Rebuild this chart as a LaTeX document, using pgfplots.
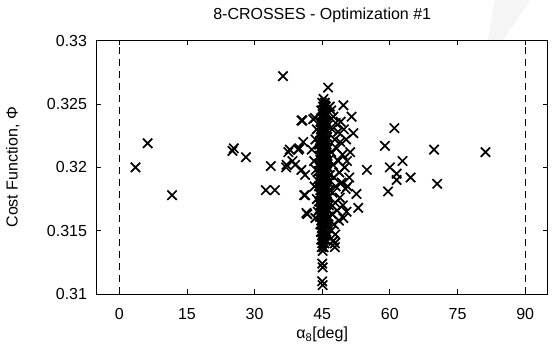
\documentclass[border=0pt]{standalone}
\usepackage{pgfplots}
\pgfplotsset{compat=1.18}
\usepackage{fontspec}
\setmainfont{Liberation Sans}
\begin{document}
\fontsize{16}{19}\selectfont
\begin{tikzpicture}
\useasboundingbox (-96.7pt,-53pt) rectangle (456.3pt,294pt);
\fill[black!4] (398pt,294pt) -- (434pt,294pt) -- (406pt,253.3pt) -- (391pt,253.3pt) -- cycle;
\begin{axis}[
  scale only axis,
  width=451pt, height=253.3pt,
  xmin=-5, xmax=95, ymin=0.31, ymax=0.33,
  xtick={0,15,30,45,60,75,90},
  ytick={0.31,0.315,0.32,0.325,0.33},
  /pgf/number format/assume math mode=true,
  yticklabel style={/pgf/number format/fixed,/pgf/number format/precision=3, inner sep=0pt, xshift=-9.5pt},
  xticklabel style={inner sep=0pt, yshift=-14pt},
  scaled y ticks=false,
  axis line style={line width=0.8pt},
  major tick style={line width=0.8pt, black},
  major tick length=4.5pt,
  tick align=inside,
  axis background/.style={fill=white},
  title={8-CROSSES - Optimization \#1},
  title style={at={(axis description cs:0.5,1)}, anchor=south, inner sep=0pt, yshift=12pt},
  xlabel={α\textsubscript{8}[deg]},
  xlabel style={at={(axis description cs:0.5,0)}, anchor=north, inner sep=0pt, yshift=-33pt},
  ylabel={Cost Function, Φ},
  ylabel style={at={(axis description cs:0,0.5)}, anchor=base, inner sep=0pt, yshift=79pt},
  clip=false,
]
\addplot[black, line width=0.8pt, dash pattern=on 7pt off 5pt] coordinates {(0,0.31) (0,0.33)};
\addplot[black, line width=0.8pt, dash pattern=on 7pt off 5pt] coordinates {(90,0.31) (90,0.33)};
\addplot[only marks, mark=x, mark size=6.6pt, mark options={line width=1.7pt, black}] table {
x y
45.1 0.3134
45.3 0.3137
44.9 0.3137
45.0 0.3140
45.5 0.3140
44.8 0.3143
45.3 0.3143
45.8 0.3143
45.0 0.3146
45.6 0.3146
46.1 0.3146
44.7 0.3149
45.2 0.3149
45.9 0.3149
44.9 0.3152
45.4 0.3152
46.2 0.3152
44.6 0.3155
45.1 0.3155
45.7 0.3155
46.3 0.3155
44.8 0.3158
45.3 0.3158
46.0 0.3158
44.5 0.3161
45.0 0.3161
45.6 0.3161
46.4 0.3161
44.7 0.3164
45.2 0.3164
45.9 0.3164
44.4 0.3167
45.0 0.3167
45.5 0.3167
46.2 0.3167
44.6 0.3170
45.1 0.3170
45.8 0.3170
46.5 0.3170
44.3 0.3173
44.9 0.3173
45.4 0.3173
46.0 0.3173
44.7 0.3176
45.2 0.3176
45.7 0.3176
46.3 0.3176
44.4 0.3179
45.0 0.3179
45.5 0.3179
46.1 0.3179
44.6 0.3182
45.1 0.3182
45.8 0.3182
46.6 0.3182
44.3 0.3185
44.9 0.3185
45.4 0.3185
46.0 0.3185
44.7 0.3188
45.2 0.3188
45.7 0.3188
46.4 0.3188
44.4 0.3191
45.0 0.3191
45.5 0.3191
46.2 0.3191
44.6 0.3194
45.3 0.3194
45.9 0.3194
46.7 0.3194
44.2 0.3197
44.8 0.3197
45.4 0.3197
46.1 0.3197
44.5 0.3200
45.1 0.3200
45.6 0.3200
46.3 0.3200
44.3 0.3203
44.9 0.3203
45.5 0.3203
46.0 0.3203
44.6 0.3206
45.2 0.3206
45.8 0.3206
46.5 0.3206
44.4 0.3209
45.0 0.3209
45.6 0.3209
46.2 0.3209
44.7 0.3212
45.3 0.3212
45.9 0.3212
44.5 0.3215
45.1 0.3215
45.6 0.3215
46.3 0.3215
44.3 0.3218
44.9 0.3218
45.4 0.3218
46.0 0.3218
44.6 0.3221
45.2 0.3221
45.8 0.3221
44.8 0.3224
45.4 0.3224
46.1 0.3224
44.5 0.3227
45.0 0.3227
45.6 0.3227
44.7 0.3230
45.3 0.3230
45.9 0.3230
44.9 0.3233
45.5 0.3233
46.2 0.3233
44.6 0.3236
45.2 0.3236
45.8 0.3236
44.9 0.3239
45.5 0.3239
45.1 0.3242
45.7 0.3242
46.2 0.3242
44.8 0.3245
45.4 0.3245
45.2 0.3248
45.8 0.3248
45.0 0.3251
45.6 0.3251
45.3 0.3254
47.0 0.3245
47.5 0.3240
48.0 0.3235
47.2 0.3230
48.5 0.3228
47.8 0.3222
49.0 0.3220
48.2 0.3215
47.0 0.3212
49.5 0.3210
48.6 0.3205
47.4 0.3202
50.0 0.3200
48.8 0.3196
47.6 0.3192
49.3 0.3188
48.0 0.3185
50.2 0.3183
47.3 0.3180
48.9 0.3176
47.9 0.3172
49.6 0.3170
48.3 0.3166
47.2 0.3163
48.7 0.3158
47.6 0.3155
47.0 0.3150
47.9 0.3147
47.5 0.3142
47.8 0.3140
50.4 0.3165
49.7 0.3160
52.6 0.3179
53.0 0.3168
51.2 0.3212
51.9 0.3227
51.5 0.3240
49.1 0.3236
49.7 0.3249
50.5 0.3205
51.0 0.3192
50.6 0.3185
49.8 0.3230
50.3 0.3222
43.0 0.3238
43.4 0.3239
42.7 0.3214
43.8 0.3230
43.5 0.3222
43.2 0.3205
43.6 0.3198
43.9 0.3190
43.3 0.3185
43.8 0.3175
44.0 0.3165
43.5 0.3160
45.6 0.3249
46.7 0.3248
3.6 0.3200
6.3 0.3219
11.7 0.3178
25.1 0.3213
25.4 0.3215
28.1 0.3208
32.5 0.3182
34.5 0.3182
33.6 0.3201
36.3 0.3272
37.0 0.3200
37.1 0.3202
37.5 0.3212
38.4 0.3205
39.0 0.3202
39.9 0.3215
40.8 0.3220
40.6 0.3237
40.4 0.3237
37.8 0.3214
39.7 0.3214
40.4 0.3198
41.2 0.3194
41.2 0.3178
41.5 0.3164
41.7 0.3163
41.0 0.3178
46.3 0.3263
61.0 0.3231
58.9 0.3217
69.8 0.3214
81.2 0.3212
62.8 0.3205
54.9 0.3198
60.0 0.3200
61.5 0.3195
61.5 0.3190
64.6 0.3192
59.6 0.3181
70.5 0.3187
45.0 0.3124
45.1 0.3121
45.0 0.3110
45.1 0.3107
47.5 0.3142
47.8 0.3137
};
\end{axis}
\end{tikzpicture}
\end{document}
